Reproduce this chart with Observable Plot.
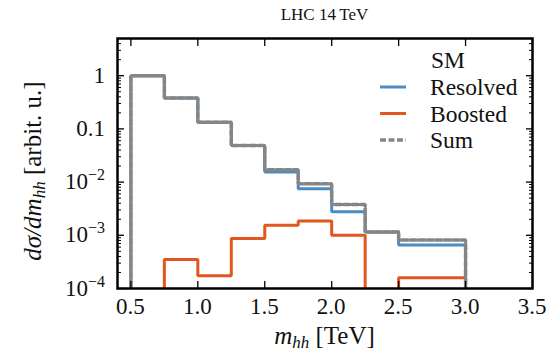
<!DOCTYPE html>
<html><head><meta charset="utf-8">
<script src="https://cdn.jsdelivr.net/npm/d3@7"></script>
<script src="https://cdn.jsdelivr.net/npm/@observablehq/plot@0.6"></script>
<style>
body{margin:0;background:#fff}
svg{font-family:"Liberation Serif","Times New Roman",serif}
</style>
</head><body><div id="chart"></div>
<script>
// bin edges (TeV)
const edges = [0.5, 0.75, 1.0, 1.25, 1.5, 1.75, 2.0, 2.25, 2.5, 3.0];
// per-bin values
const resolved = [1.0, 0.38, 0.133, 0.0486, 0.0154, 0.0075, 0.00277, 0.00115, 0.00066];
const boosted  = [0, 0.00035, 0.000173, 0.00087, 0.00154, 0.00185, 0.001, 0, 0.00016];
const sumVals  = [1.0, 0.38, 0.133, 0.0486, 0.0171, 0.0093, 0.0038, 0.00115, 0.00082];
const seriesNames = ["Resolved", "Boosted", "Sum"];
const colors = ["#4a8cc6", "#e2561f", "#858585"];
const xTicks = [0.5, 1.0, 1.5, 2.0, 2.5, 3.0, 3.5];
const xLabels = ["0.5", "1.0", "1.5", "2.0", "2.5", "3.0", "3.5"];
const yMajor = [1e-4, 1e-3, 1e-2, 0.1, 1];
const yLabels = [["10","−4"], ["10","−3"], ["10","−2"], ["0.1",""], ["1",""]];

const floor = 1e-7;
function steps(vals) {
  const pts = [{x: edges[0], y: floor}];
  vals.forEach((v, i) => pts.push({x: edges[i], y: v > 0 ? v : floor}));
  pts.push({x: edges[edges.length - 1], y: floor});
  return pts;
}
const yMinor = [];
for (let e = -4; e <= 0; e++) for (let m = 2; m <= 9; m++) { const v = m * Math.pow(10, e); if (v <= 5) yMinor.push(v); }

const W = 551, H = 352;
const plot = Plot.plot({
  width: W, height: H,
  marginTop: 38, marginBottom: 64, marginLeft: 117, marginRight: 19,
  x: {domain: [0.4, 3.5]},
  y: {type: "log", domain: [1e-4, 5]},
  style: {fontFamily: "Liberation Serif, serif", background: "#fff"},
  marks: [
    Plot.line(steps(resolved), {x: "x", y: "y", curve: "step-after", stroke: colors[0], strokeWidth: 3, strokeLinejoin: "miter", clip: true}),
    Plot.line(steps(boosted), {x: "x", y: "y", curve: "step-after", stroke: colors[1], strokeWidth: 3, strokeLinejoin: "miter", clip: true}),
    Plot.line(steps(sumVals), {x: "x", y: "y", curve: "step-after", stroke: colors[2], strokeWidth: 3.5, strokeDasharray: "6,2.5", strokeLinejoin: "miter", clip: true}),
    Plot.axisX({anchor: "bottom", ticks: xTicks, tickSize: -7, tickFormat: () => "", strokeWidth: 1.3, label: null}),
    Plot.axisX({anchor: "top", ticks: xTicks, tickSize: -7, tickFormat: () => "", strokeWidth: 1.3, label: null}),
    Plot.axisY({anchor: "left", ticks: yMajor, tickSize: -7, tickFormat: () => "", strokeWidth: 1.3, label: null}),
    Plot.axisY({anchor: "right", ticks: yMajor, tickSize: -7, tickFormat: () => "", strokeWidth: 1.3, label: null}),
    Plot.axisY({anchor: "left", ticks: yMinor, tickSize: -4, tickFormat: () => "", strokeWidth: 1, label: null}),
    Plot.axisY({anchor: "right", ticks: yMinor, tickSize: -4, tickFormat: () => "", strokeWidth: 1, label: null}),
    Plot.frame({stroke: "#000", strokeWidth: 2.5})
  ]
});
document.getElementById("chart").appendChild(plot);

const svg = d3.select(plot);
const xs = plot.scale("x");
const ys = plot.scale("y");
const L = 117, R = W - 19, T = 38, B = H - 64;
const cx = (L + R) / 2;
const ink = "#111";

// x tick labels
xTicks.forEach((v, i) => {
  svg.append("text").attr("x", xs.apply(v)).attr("y", 314).attr("text-anchor", "middle")
    .style("font-size", "23px").attr("fill", ink).text(xLabels[i]);
});

// y tick labels
yMajor.forEach((v, i) => {
  const t = svg.append("text").attr("x", 105).attr("y", ys.apply(v) + 7.5)
    .attr("text-anchor", "end").style("font-size", "23px").attr("fill", ink);
  t.append("tspan").text(yLabels[i][0]);
  if (yLabels[i][1]) t.append("tspan").style("font-size", "16px").attr("dy", -9).text(yLabels[i][1]);
});

// title
svg.append("text").attr("x", cx).attr("y", 20).attr("text-anchor", "middle").style("font-size", "17px").attr("fill", ink)
  .text("LHC 14\u2009TeV");

// x label
const xl = svg.append("text").attr("x", cx).attr("y", 344).attr("text-anchor", "middle").style("font-size", "25px").attr("fill", ink);
xl.append("tspan").attr("font-style", "italic").text("m");
xl.append("tspan").attr("font-style", "italic").style("font-size", "17px").attr("dy", 4).text("hh");
xl.append("tspan").attr("dy", -4).text(" [TeV]");

// y label
const yl = svg.append("text").attr("transform", `translate(41,171) rotate(-90)`)
  .attr("text-anchor", "middle").style("font-size", "25px").attr("fill", ink);
yl.append("tspan").attr("font-style", "italic").text("dσ/dm");
yl.append("tspan").attr("font-style", "italic").style("font-size", "17px").attr("dy", 4).text("hh");
yl.append("tspan").attr("dy", -4).text(" [arbit. u.]");

// legend
const lg = svg.append("g").style("font-size", "23.5px").attr("fill", ink);
lg.append("text").attr("x", 448).attr("y", 60).attr("dy", "0.35em").attr("text-anchor", "middle").text("SM");
seriesNames.forEach((n, i) => {
  const y = 87 + i * 26.5;
  lg.append("line").attr("x1", 380).attr("x2", 406).attr("y1", y).attr("y2", y)
    .attr("stroke", colors[i]).attr("stroke-width", i === 2 ? 3.5 : 3)
    .attr("stroke-dasharray", i === 2 ? "6,2.5" : null);
  lg.append("text").attr("x", 430).attr("y", y).attr("dy", "0.35em").attr("text-anchor", "start").text(n);
});
</script>
</body></html>
